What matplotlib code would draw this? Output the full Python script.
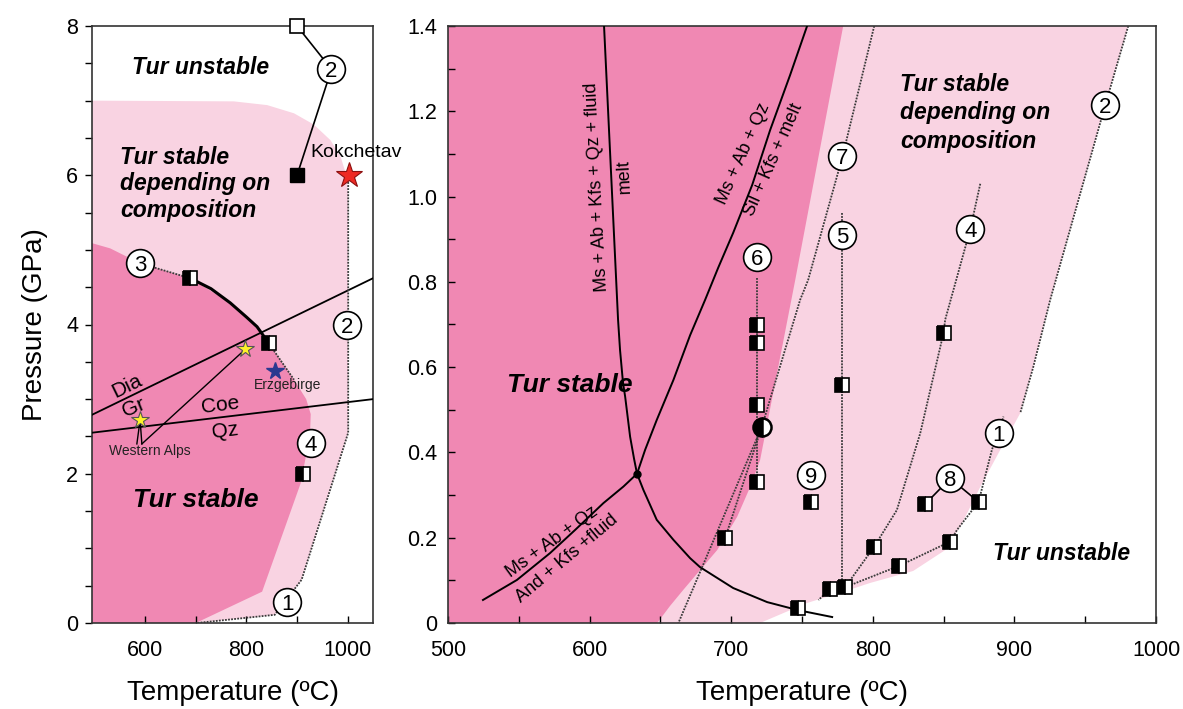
import matplotlib
matplotlib.use("Agg")
import matplotlib.pyplot as plt
from matplotlib.ticker import MultipleLocator, FixedLocator, FuncFormatter

plt.rcParams['font.family'] = ['Liberation Sans', 'DejaVu Sans']

DARK = '#F088B3'
LIGHT = '#F9D3E2'
DOT = (0, (1, 0.7))
DOTC = '#3a3a3a'

# ---------------- left panel (0-8 GPa) ----------------
hp_light_T = [495, 702, 856, 909, 1001, 1001, 999, 996, 986, 966, 933, 894, 841, 775, 495]
hp_light_P = [0, 0, 0.11, 0.58, 2.55, 5.76, 5.90, 6.03, 6.25, 6.47, 6.68, 6.83, 6.94, 6.99, 7.0]
hp_dark_T = [495, 700, 831, 907, 920, 926, 927, 918, 907, 894, 844, 821, 768, 689, 590, 531, 495]
hp_dark_P = [0, 0, 0.42, 1.87, 2.32, 2.60, 2.80, 3.00, 3.12, 3.26, 3.75, 3.97, 4.29, 4.62, 4.82, 5.02, 5.09]

dia_gr_T, dia_gr_P = [495, 1050], [2.79, 4.62]
coe_qz_T, coe_qz_P = [495, 1050], [2.55, 3.00]

hp_exp2_T = [1001, 1001, 909, 856, 702]          # experiments 2 and 1
hp_exp2_P = [5.95, 2.55, 0.58, 0.11, 0.0]
hp_exp3a_T, hp_exp3a_P = [590, 689], [4.82, 4.62]
hp_exp3_T = [689, 730, 768, 800, 821, 844]
hp_exp3_P = [4.62, 4.48, 4.29, 4.10, 3.97, 3.75]
hp_exp3b_T, hp_exp3b_P = [844, 894], [3.75, 3.26]

hp_half_T = [689, 844, 912]
hp_half_P = [4.62, 3.75, 1.99]
hp_open_T, hp_open_P = [900], [8.0]
hp_full_T, hp_full_P = [900], [6.0]
hp_tag = ['2', '3', '2', '4', '1']
hp_tag_T = [968, 590, 999, 927, 881]
hp_tag_P = [7.42, 4.82, 3.99, 2.41, 0.28]

alps_T, alps_P = [798, 590], [3.67, 2.72]
erz_T, erz_P = [857], [3.38]
kok_T, kok_P = [1003], [6.0]

# ---------------- right panel (0-1.4 GPa) ----------------
lp_light_T = [500, 720.4, 741.6, 753.6, 779.1, 798.2, 828.5, 851.1, 861.7, 875.9,
              890.0, 904.1, 913.3, 925.3, 964.2, 980.4, 500]
lp_light_P = [0, 0, 0.030, 0.047, 0.073, 0.094, 0.122, 0.171, 0.225, 0.319,
              0.406, 0.492, 0.600, 0.758, 1.215, 1.4, 1.4]
lp_dark_T = [500, 647.7, 656.8, 666.0, 678.0, 690.1, 704.2, 713.4, 720.4, 745.2, 779.1, 500]
lp_dark_P = [0, 0, 0.040, 0.077, 0.124, 0.171, 0.249, 0.319, 0.382, 0.804, 1.4, 1.4]

melt_T = [610.2, 620.1, 621.5, 623.6, 625.1, 628.6, 631.4, 633.5, 638.0, 647.4, 659.2,
          671.0, 678.0, 701.4, 725.4, 747.3, 771.3]
melt_P = [1.4, 0.711, 0.640, 0.563, 0.531, 0.437, 0.385, 0.35, 0.312, 0.242, 0.195,
          0.152, 0.131, 0.082, 0.049, 0.030, 0.014]
sil_T = [753.6, 741.6, 727.5, 714.8, 701.4, 690.8, 681.6, 671.0, 659.2, 647.4, 639.2, 633.5]
sil_P = [1.4, 1.285, 1.156, 1.027, 0.915, 0.833, 0.758, 0.675, 0.570, 0.476, 0.406, 0.35]
and_T = [633.5, 623.9, 609.7, 589.7, 572.1, 548.7, 524.7]
and_P = [0.35, 0.320, 0.281, 0.218, 0.164, 0.101, 0.054]
triple_T, triple_P = [633.5], [0.35]

exp1_T = [780.5, 818.6, 854.7, 859.4, 874.7, 884.1, 892.3]
exp1_P = [0.084, 0.134, 0.191, 0.218, 0.284, 0.406, 0.484]
exp2_T = [980.4, 964.2, 925.3, 913.3, 904.1]
exp2_P = [1.4, 1.215, 0.758, 0.600, 0.492]
exp4_T = [875.9, 868.8, 851.1, 850.0, 833.5, 817.0, 801.0, 780.5]
exp4_P = [1.03, 0.923, 0.711, 0.681, 0.445, 0.265, 0.179, 0.084]
exp5_T, exp5_P = [778.6, 778.6], [0.962, 0.10]
exp6_T, exp6_P = [718.4, 718.4], [0.81, 0.331]
exp7_T = [801.0, 778.6, 754.3, 748.7, 721.6, 662.7]
exp7_P = [1.4, 1.094, 0.804, 0.758, 0.46, 0.0]
exp7b_T, exp7b_P = [721.6, 695.7], [0.46, 0.199]
tail_T, tail_P = [769.9, 761.6], [0.079, 0.054]

lp_half_T = [718.4, 718.4, 718.4, 718.4, 695.7, 747.3, 769.9, 780.5, 801.0,
             818.6, 854.7, 837.0, 874.7, 756.5, 778.1, 850.0]
lp_half_P = [0.699, 0.656, 0.511, 0.331, 0.199, 0.035, 0.079, 0.084, 0.179,
             0.134, 0.191, 0.279, 0.284, 0.284, 0.558, 0.681]
lp_circ_T, lp_circ_P = [721.6], [0.46]
lp_tag = ['6', '7', '5', '4', '2', '1', '8', '9']
lp_tag_T = [718.0, 778.6, 778.6, 868.8, 964.2, 888.8, 854.7, 756.5]
lp_tag_P = [0.858, 1.094, 0.910, 0.923, 1.215, 0.445, 0.339, 0.347]
exp8_T = [[854.7, 837.0], [854.7, 874.7]]
exp8_P = [[0.339, 0.279], [0.339, 0.284]]


def half_squares(ax, T, P, ms=10):
    ax.plot(T, P, 's', ms=ms, fillstyle='left', mfc='black', mfcalt='white',
            mec='black', mew=1.2, ls='none', zorder=5, clip_on=False)


def tags(ax, labels, T, P):
    ax.plot(T, P, 'o', ms=20, mfc='white', mec='black', mew=1.2, ls='none',
            zorder=6, clip_on=False)
    for s, t, p in zip(labels, T, P):
        ax.text(t, p, s, fontsize=16, ha='center', va='center_baseline', zorder=7)


def dotted(ax, T, P):
    ax.plot(T, P, color=DOTC, lw=1.3, ls=DOT, zorder=3)


def frame(ax):
    for sp in ax.spines.values():
        sp.set_linewidth(1.2)
        sp.set_color('#333333')


W, H = 1183, 709
fig = plt.figure(figsize=(W / 100, H / 100), dpi=100)
ax1 = fig.add_axes([92 / W, 1 - 623 / H, (373 - 92) / W, 597 / H])
ax2 = fig.add_axes([448 / W, 1 - 623 / H, (1156 - 448) / W, 597 / H])

# ----- left panel -----
ax1.fill(hp_light_T, hp_light_P, color=LIGHT, lw=0, zorder=1)
ax1.fill(hp_dark_T, hp_dark_P, color=DARK, lw=0, zorder=1.5)
ax1.plot(dia_gr_T, dia_gr_P, color='black', lw=1.3, zorder=3)
ax1.plot(coe_qz_T, coe_qz_P, color='black', lw=1.3, zorder=3)
dotted(ax1, hp_exp2_T, hp_exp2_P)
dotted(ax1, hp_exp3a_T, hp_exp3a_P)
dotted(ax1, hp_exp3b_T, hp_exp3b_P)
ax1.plot(hp_exp3_T, hp_exp3_P, color='black', lw=2.2, zorder=3)
ax1.plot([hp_open_T[0], hp_tag_T[0], hp_full_T[0]],
         [hp_open_P[0], hp_tag_P[0], hp_full_P[0]], color='black', lw=1.2, zorder=4,
         clip_on=False)
half_squares(ax1, hp_half_T, hp_half_P)
ax1.plot(hp_open_T, hp_open_P, 's', ms=10, mfc='white', mec='black', mew=1.2,
         zorder=5, clip_on=False)
ax1.plot(hp_full_T, hp_full_P, 's', ms=10, mfc='black', mec='black', zorder=5)
tags(ax1, hp_tag, hp_tag_T, hp_tag_P)

# Western Alps pointers
ax1.plot([583.6, alps_T[1]], [2.40, alps_P[1]], color='black', lw=1, zorder=3)
ax1.plot([593.5, alps_T[1]], [2.40, alps_P[1]], color='black', lw=1, zorder=3)
ax1.plot([593.5, alps_T[0]], [2.40, alps_P[0]], color='black', lw=1, zorder=3)
ax1.plot(alps_T, alps_P, '*', ms=13, mfc='#FFF22A', mec='#555555', mew=0.8, ls='none', zorder=5)
ax1.plot(erz_T, erz_P, '*', ms=13, mfc='#2B3990', mec='#2B3990', ls='none', zorder=5)
ax1.plot(kok_T, kok_P, '*', ms=19, mfc='#EE2A24', mec='#8B1010', mew=0.8, ls='none',
         zorder=6, clip_on=False)

bi = dict(fontweight='bold', fontstyle='italic', zorder=7)
ax1.text(709, 7.44, 'Tur unstable', fontsize=16.5, ha='center', va='center', **bi)
ax1.text(550, 5.885, 'Tur stable\ndepending on\ncomposition', fontsize=16.5,
         ha='left', va='center', linespacing=1.2, **bi)
ax1.text(699, 1.65, 'Tur stable', fontsize=19, ha='center', va='center', **bi)
ax1.text(926.7, 6.31, 'Kokchetav', fontsize=14, ha='left', va='center', clip_on=False)
ax1.text(814, 3.19, 'Erzgebirge', fontsize=10, ha='left', va='center', color='#222222')
ax1.text(610, 2.31, 'Western Alps', fontsize=10, ha='center', va='center', color='#222222')
ax1.text(563.7, 3.17, 'Dia', fontsize=15, rotation=26, ha='center', va='center')
ax1.text(577, 2.88, 'Gr', fontsize=15, rotation=22, ha='center', va='center')
ax1.text(748.5, 2.92, 'Coe', fontsize=15, rotation=7, ha='center', va='center')
ax1.text(758.4, 2.58, 'Qz', fontsize=15, rotation=7, ha='center', va='center')

ax1.set_xlim(495, 1050)
ax1.set_ylim(0, 8)
ax1.xaxis.set_major_locator(FixedLocator([600, 800, 1000]))
ax1.xaxis.set_minor_locator(FixedLocator([700, 900]))
ax1.yaxis.set_major_locator(MultipleLocator(2))
ax1.yaxis.set_minor_locator(MultipleLocator(0.5))
ax1.tick_params(axis='x', which='both', direction='in', length=5, width=1, labelsize=15.5, pad=12)
ax1.tick_params(axis='y', which='both', direction='out', length=5, width=1, labelsize=15.5, pad=5)
ax1.set_xlabel('Temperature (ºC)', fontsize=20, labelpad=14)
ax1.set_ylabel('Pressure (GPa)', fontsize=20, labelpad=13)
frame(ax1)

# ----- right panel -----
ax2.fill(lp_light_T, lp_light_P, color=LIGHT, lw=0, zorder=1)
ax2.fill(lp_dark_T, lp_dark_P, color=DARK, lw=0, zorder=1.5)
ax2.plot(melt_T, melt_P, color='black', lw=1.4, zorder=3)
ax2.plot(sil_T, sil_P, color='black', lw=1.4, zorder=3)
ax2.plot(and_T, and_P, color='black', lw=1.4, zorder=3)
ax2.plot(triple_T, triple_P, 'o', ms=5, color='black', zorder=4)
for T, P in [(exp1_T, exp1_P), (exp2_T, exp2_P), (exp4_T, exp4_P), (exp5_T, exp5_P),
             (exp6_T, exp6_P), (exp7_T, exp7_P), (exp7b_T, exp7b_P), (tail_T, tail_P)]:
    dotted(ax2, T, P)
for T, P in zip(exp8_T, exp8_P):
    ax2.plot(T, P, color='black', lw=1.2, zorder=4)
half_squares(ax2, lp_half_T, lp_half_P)
ax2.plot(lp_circ_T, lp_circ_P, 'o', ms=13, fillstyle='left', mfc='black', mfcalt='white',
         mec='black', mew=1.8, ls='none', zorder=5)
tags(ax2, lp_tag, lp_tag_T, lp_tag_P)

ax2.text(586, 0.558, 'Tur stable', fontsize=19, ha='center', va='center', **bi)
ax2.text(819.3, 1.196, 'Tur stable\ndepending on\ncomposition', fontsize=16.5,
         ha='left', va='center', linespacing=1.28, **bi)
ax2.text(933.6, 0.164, 'Tur unstable', fontsize=16.5, ha='center', va='center', **bi)
ax2.text(605.1, 1.023, 'Ms + Ab + Kfs + Qz + fluid', fontsize=13, rotation=93,
         ha='center', va='center')
ax2.text(624.3, 1.047, 'melt', fontsize=13, rotation=93, ha='center', va='center')
ax2.text(708.6, 1.10, 'Ms + Ab + Qz', fontsize=13, rotation=66, ha='center', va='center')
ax2.text(729.8, 1.086, 'Sil + Kfs + melt', fontsize=13, rotation=66, ha='center', va='center')
ax2.text(573.3, 0.189, 'Ms + Ab + Qz', fontsize=13, rotation=36, ha='center', va='center')
ax2.text(584.3, 0.152, 'And + Kfs +fluid', fontsize=13, rotation=40, ha='center', va='center')

ax2.set_xlim(500, 1000)
ax2.set_ylim(0, 1.4)
ax2.xaxis.set_major_locator(MultipleLocator(100))
ax2.xaxis.set_minor_locator(MultipleLocator(50))
ax2.yaxis.set_major_locator(MultipleLocator(0.2))
ax2.yaxis.set_minor_locator(MultipleLocator(0.1))
ax2.yaxis.set_major_formatter(FuncFormatter(lambda v, pos: '0' if abs(v) < 1e-9 else f'{v:.1f}'))
ax2.tick_params(axis='both', which='both', direction='in', length=5, width=1, labelsize=15.5)
ax2.tick_params(axis='x', pad=12)
ax2.tick_params(axis='y', pad=8)
ax2.set_xlabel('Temperature (ºC)', fontsize=20, labelpad=14)
frame(ax2)

fig.savefig('out.png', dpi=100)
